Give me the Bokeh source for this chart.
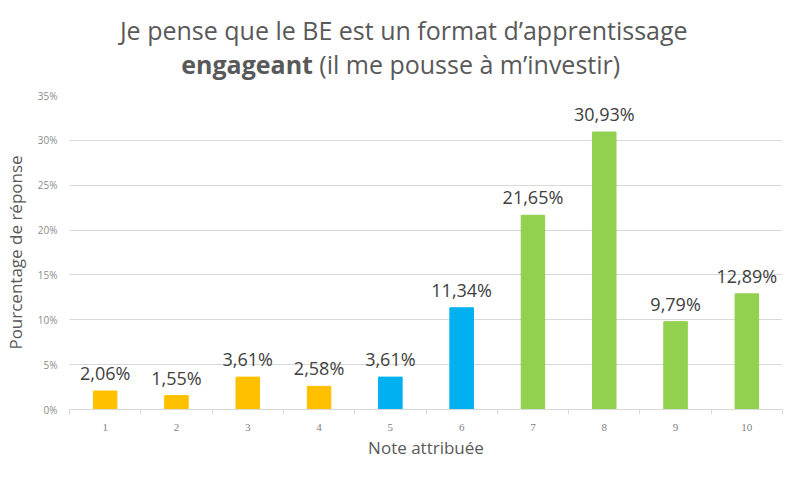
from bokeh.plotting import figure
from bokeh.models import ColumnDataSource, FixedTicker, CustomJSTickFormatter, Range1d
from bokeh.layouts import column
from bokeh.embed import file_html
from bokeh.resources import INLINE
from bokeh.core.properties import value

notes = [1, 2, 3, 4, 5, 6, 7, 8, 9, 10]
pourcentages = [2.06, 1.55, 3.61, 2.58, 3.61, 11.34, 21.65, 30.93, 9.79, 12.89]
couleurs = ["#FFC000", "#FFC000", "#FFC000", "#FFC000", "#00B0F0", "#00B0F0",
            "#92D050", "#92D050", "#92D050", "#92D050"]
etiquettes = [f"{v:.2f}%".replace(".", ",") for v in pourcentages]
y_ticks = [0, 5, 10, 15, 20, 25, 30, 35]
titre_ligne1 = "Je pense que le BE est un format d’apprentissage"
titre_gras = "engageant"
titre_suite = "(il me pousse à m’investir)"

W = 785
TITLE_H = 80
CHART_H = 461 - TITLE_H
GREY_TXT = "#595959"

# ---- title figure (coordinate system in pixels, y downwards, no axes) ----
tf = figure(width=W, height=TITLE_H, output_backend="svg", toolbar_location=None,
            x_range=Range1d(0, W), y_range=Range1d(TITLE_H, 0),
            x_axis_type=None, y_axis_type=None,
            min_border=0, min_border_left=0, min_border_right=0,
            min_border_top=0, min_border_bottom=0, outline_line_color=None)
tf.grid.visible = False
tf.text(x=[368], y=[29], text=[titre_ligne1], text_align="center", text_baseline="middle",
        text_font=value("Open Sans"), text_font_size="25px", text_color=GREY_TXT)
tf.text(x=[268], y=[63], text=[titre_gras], text_align="right", text_baseline="middle",
        text_font=value("Open Sans"), text_font_size="25px", text_font_style="bold",
        text_color=GREY_TXT)
tf.text(x=[275], y=[63], text=[titre_suite], text_align="left", text_baseline="middle",
        text_font=value("Open Sans"), text_font_size="25px", text_color=GREY_TXT)

# ---- chart ----
src = ColumnDataSource(dict(x=notes, top=pourcentages, color=couleurs, label=etiquettes))

p = figure(width=W, height=CHART_H, output_backend="svg", toolbar_location=None,
           x_range=Range1d(0.5, 10.5), y_range=Range1d(0, 35),
           min_border_left=60, min_border_right=3, min_border_top=15, min_border_bottom=30)
p.outline_line_color = None

p.vbar(x="x", top="top", width=0.33, color="color", source=src)
p.text(x="x", y="top", text="label", source=src, text_align="center", text_baseline="bottom",
       y_offset=-6, text_font=value("Open Sans"), text_font_size="18px", text_color="#404040")

p.xaxis.ticker = FixedTicker(ticks=notes, minor_ticks=[i + 0.5 for i in range(0, 11)])
p.xaxis.major_tick_line_color = None
p.xaxis.major_tick_out = 0
p.xaxis.major_tick_in = 0
p.xaxis.minor_tick_out = 5
p.xaxis.minor_tick_in = 0
p.xaxis.minor_tick_line_color = "#D9D9D9"
p.xaxis.axis_line_color = "#D9D9D9"
p.xaxis.major_label_text_font = "Liberation Serif"
p.xaxis.major_label_text_font_size = "11px"
p.xaxis.major_label_text_color = "#7F7F7F"
p.xaxis.major_label_standoff = 9
p.xaxis.axis_label = "Note attribuée"
p.xaxis.axis_label_text_font = "Open Sans"
p.xaxis.axis_label_text_font_style = "normal"
p.xaxis.axis_label_text_font_size = "17px"
p.xaxis.axis_label_text_color = GREY_TXT
p.xaxis.axis_label_standoff = 2

p.yaxis.ticker = FixedTicker(ticks=y_ticks)
p.yaxis.formatter = CustomJSTickFormatter(code="return tick + '%';")
p.yaxis.axis_line_color = None
p.yaxis.major_tick_line_color = None
p.yaxis.major_tick_out = 0
p.yaxis.minor_tick_line_color = None
p.yaxis.major_label_text_font = "Open Sans"
p.yaxis.major_label_text_font_size = "10px"
p.yaxis.major_label_text_color = "#8C8C8C"
p.yaxis.major_label_standoff = 12
p.yaxis.axis_label = "Pourcentage de réponse"
p.yaxis.axis_label_text_font = "Open Sans"
p.yaxis.axis_label_text_font_style = "normal"
p.yaxis.axis_label_text_font_size = "17px"
p.yaxis.axis_label_text_color = GREY_TXT
p.yaxis.axis_label_standoff = 8

p.xgrid.grid_line_color = None
p.ygrid.grid_line_color = "#D9D9D9"
p.ygrid.ticker = FixedTicker(ticks=y_ticks)

layout = column(tf, p, spacing=0)
open("out.html", "w").write(file_html(layout, INLINE))
